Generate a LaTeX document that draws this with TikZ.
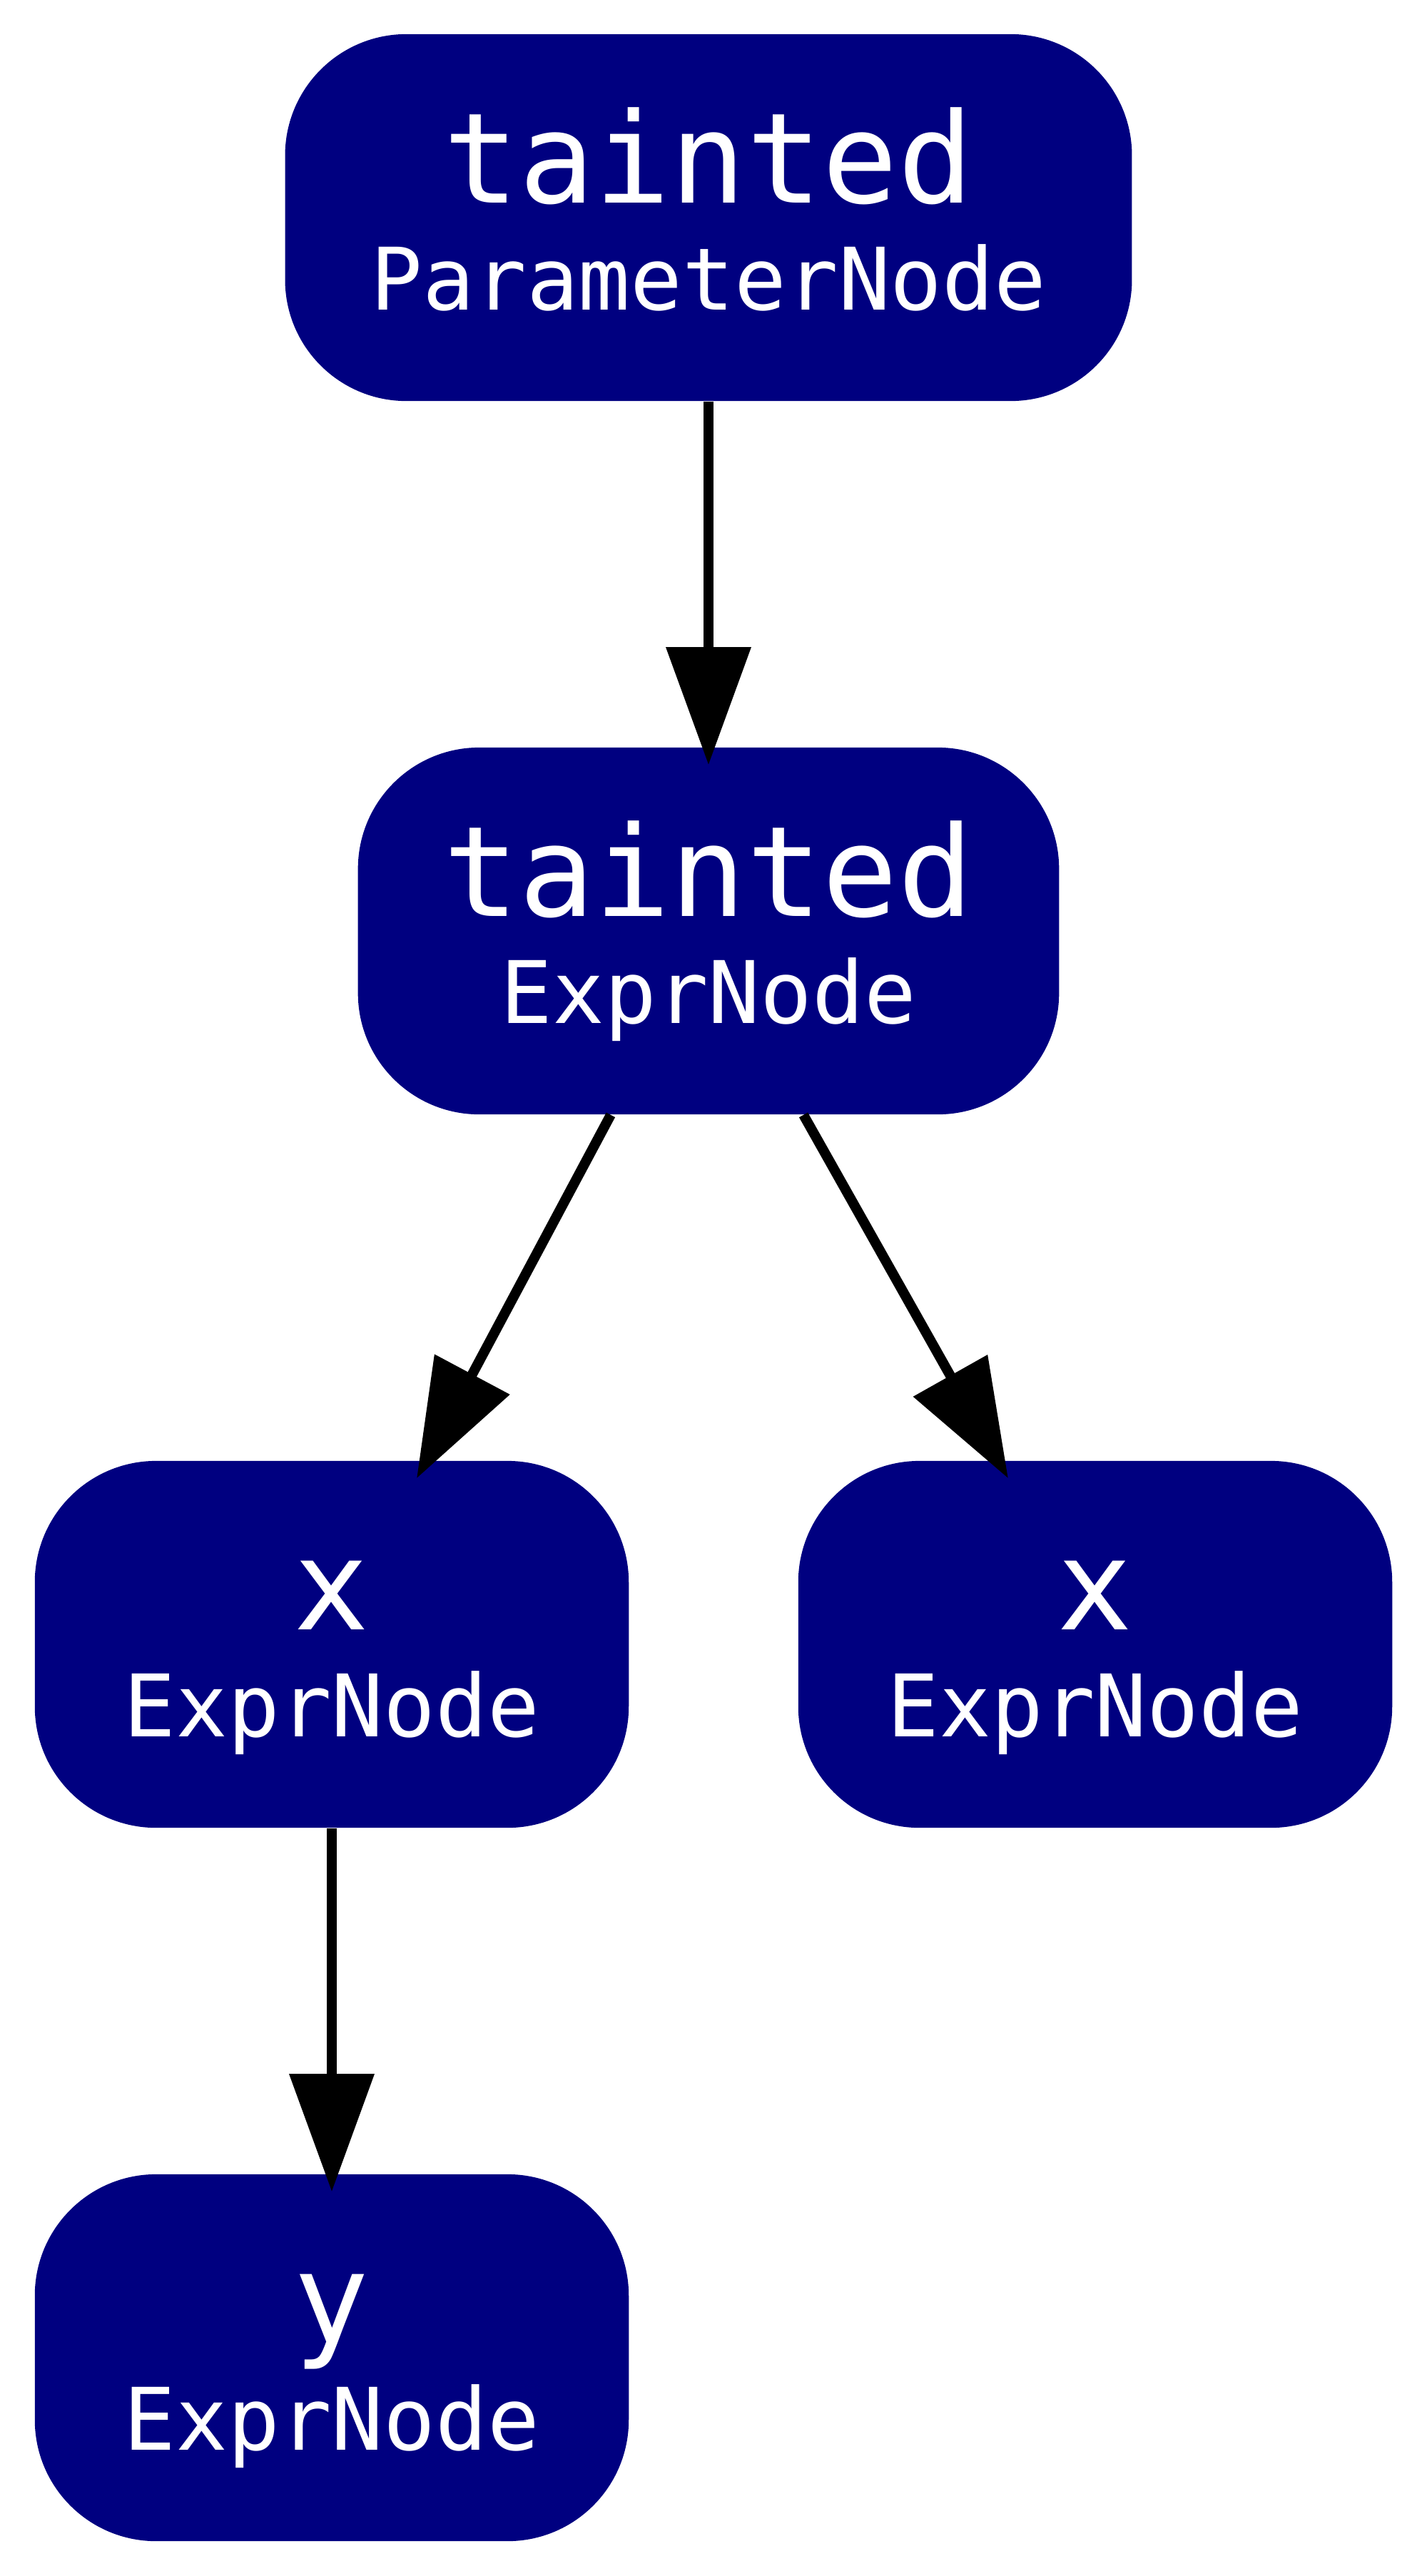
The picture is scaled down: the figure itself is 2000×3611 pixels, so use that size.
\documentclass[tikz,border=0pt]{standalone}
\usepackage{fontspec}
\setmonofont{DejaVu Sans Mono}
\usetikzlibrary{arrows.meta}
\definecolor{astnavy}{RGB}{0,0,128}
\newcommand{\astbig}{\fontsize{50.1}{42.68}\selectfont}

\begin{document}
\begin{tikzpicture}
  [x=0.01cm,y=-0.01cm,
   every node/.style={rectangle,rounded corners=1.7cm,fill=astnavy,text=white,
     font=\fontsize{34.4}{42.68}\selectfont\ttfamily,align=center,
     minimum width=8.32cm,minimum height=5.14cm,inner xsep=1.2cm,inner ysep=0pt},
   link/.style={-{Triangle[length=1.65cm,width=1.16cm]},line width=0.14cm}]
  \useasboundingbox (0,0) rectangle (2000,3611);

  \node (n1) at (993,305)   {{\astbig\vphantom{d}tainted}\\\vphantom{p}ParameterNode};
  \node (n2) at (993,1305)  {{\astbig\vphantom{d}tainted}\\\vphantom{p}ExprNode};
  \node (n3) at (465,2305)  {{\astbig\vphantom{d}x}\\\vphantom{p}ExprNode};
  \node (n4) at (1535,2305) {{\astbig\vphantom{d}x}\\\vphantom{p}ExprNode};
  \node (n5) at (465,3305)  {{\astbig\vphantom{d}y}\\\vphantom{p}ExprNode};

  \foreach \from/\sx/\to/\tx in {n1/0/n2/0,n2/-1.37/n3/1.19,n2/1.33/n4/-1.22,n3/0/n5/0}
    \draw[link] ([xshift=\sx cm]\from.south) -- ([xshift=\tx cm,yshift=-0.25cm]\to.north);

\end{tikzpicture}
\end{document}
